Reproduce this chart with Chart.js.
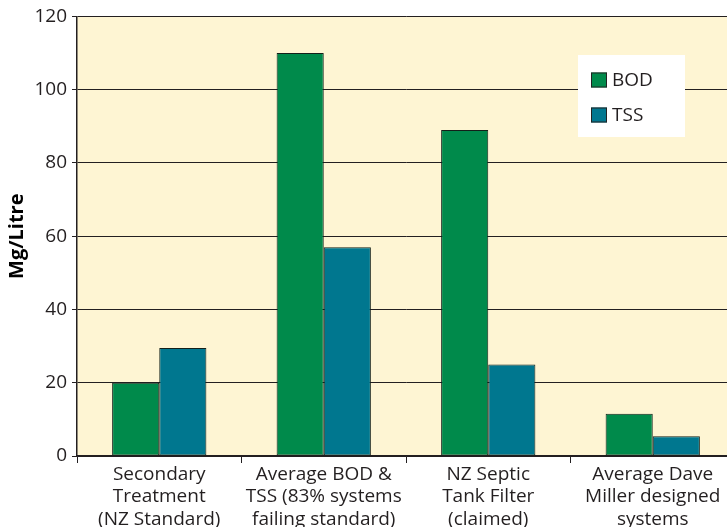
<!DOCTYPE html>
<html>
<head>
<meta charset="utf-8">
<script src="https://cdn.jsdelivr.net/npm/chart.js@4"></script>
<style>
    html, body { margin: 0; padding: 0; background: #ffffff; overflow: hidden; }
    #wrap { width: 735px; height: 527px; }
</style>
</head>
<body>
<div id="wrap"><canvas id="bodChart" width="735" height="527"></canvas></div>
<script>

/* ---------------------------------------------------
   Data
---------------------------------------------------*/

const categories = [
    ["Secondary", "Treatment", "(NZ Standard)"],
    ["Average BOD &", "TSS (83% systems", "failing standard)"],
    ["NZ Septic", "Tank Filter", "(claimed)"],
    ["Average Dave", "Miller designed", "systems"]
];

const seriesNames = ["BOD", "TSS"];
const bodValues = [20, 110, 89, 11.5];
const tssValues = [29.5, 57, 25, 5.4];

const yMin = 0;
const yMax = 120;
const yStep = 20;

/* ---------------------------------------------------
   Plugins: plot background + inside legend
---------------------------------------------------*/

const plotBackground = {
    id: "plotBackground",
    beforeDraw(chart) {
        const a = chart.chartArea;
        const ctx = chart.ctx;
        ctx.save();
        ctx.fillStyle = "#fef5d3";
        ctx.fillRect(a.left, a.top, a.right - a.left, a.bottom - a.top);
        ctx.restore();
    }
};

const insideLegend = {
    id: "insideLegend",
    afterDatasetsDraw(chart) {
        const ctx = chart.ctx;
        ctx.save();
        ctx.fillStyle = "#ffffff";
        ctx.fillRect(578, 55, 107, 82);

        chart.data.datasets.forEach((ds, i) => {
            const y = 80 + i * 35;
            ctx.fillStyle = ds.backgroundColor;
            ctx.fillRect(591, y - 7.5, 16, 15);
            ctx.strokeStyle = "#222222";
            ctx.lineWidth = 1;
            ctx.strokeRect(591.5, y - 7, 15, 14);
            ctx.fillStyle = "#231f20";
            ctx.font = "19px 'Open Sans'";
            ctx.textBaseline = "middle";
            ctx.fillText(ds.label, 612, y + 1);
        });
        ctx.restore();
    }
};

/* ---------------------------------------------------
   Chart
---------------------------------------------------*/

const textColor = "#231f20";

new Chart(document.getElementById("bodChart"), {
    type: "bar",
    data: {
        labels: categories,
        datasets: [
            {
                label: seriesNames[0],
                data: bodValues,
                backgroundColor: "#008a4b",
                borderColor: "#13201a",
                borderWidth: 1,
                borderSkipped: false
            },
            {
                label: seriesNames[1],
                data: tssValues,
                backgroundColor: "#00778f",
                borderColor: "#13201a",
                borderWidth: 1,
                borderSkipped: false
            }
        ]
    },
    options: {
        responsive: false,
        animation: false,
        layout: { padding: { top: 3, right: 0, bottom: 0, left: 0 } },
        datasets: {
            bar: { categoryPercentage: 0.573, barPercentage: 1 }
        },
        plugins: {
            legend: { display: false },
            tooltip: { enabled: false }
        },
        scales: {
            x: {
                afterFit: scale => { scale.height = 71; },
                grid: {
                    offset: true,
                    drawOnChartArea: false,
                    drawTicks: true,
                    tickLength: 7,
                    color: "#231f20"
                },
                border: { display: true, color: "#231f20", width: 1.5 },
                ticks: {
                    color: textColor,
                    padding: 1,
                    maxRotation: 0,
                    autoSkip: false,
                    font: { family: "'Open Sans'", size: 19, lineHeight: 1.16 }
                }
            },
            y: {
                min: yMin,
                max: yMax,
                afterFit: scale => { scale.width = 77; },
                grid: {
                    color: "#231f20",
                    lineWidth: 1,
                    tickLength: 5
                },
                border: { display: true, color: "#231f20", width: 1.5 },
                ticks: {
                    stepSize: yStep,
                    color: textColor,
                    padding: 5,
                    font: { family: "'Open Sans'", size: 19 }
                },
                title: {
                    display: true,
                    text: "Mg/Litre",
                    color: "#000000",
                    padding: { top: 5, bottom: 0 },
                    font: { family: "'Open Sans'", size: 20, weight: "bold" }
                }
            }
        }
    },
    plugins: [plotBackground, insideLegend]
});

</script>
</body>
</html>
